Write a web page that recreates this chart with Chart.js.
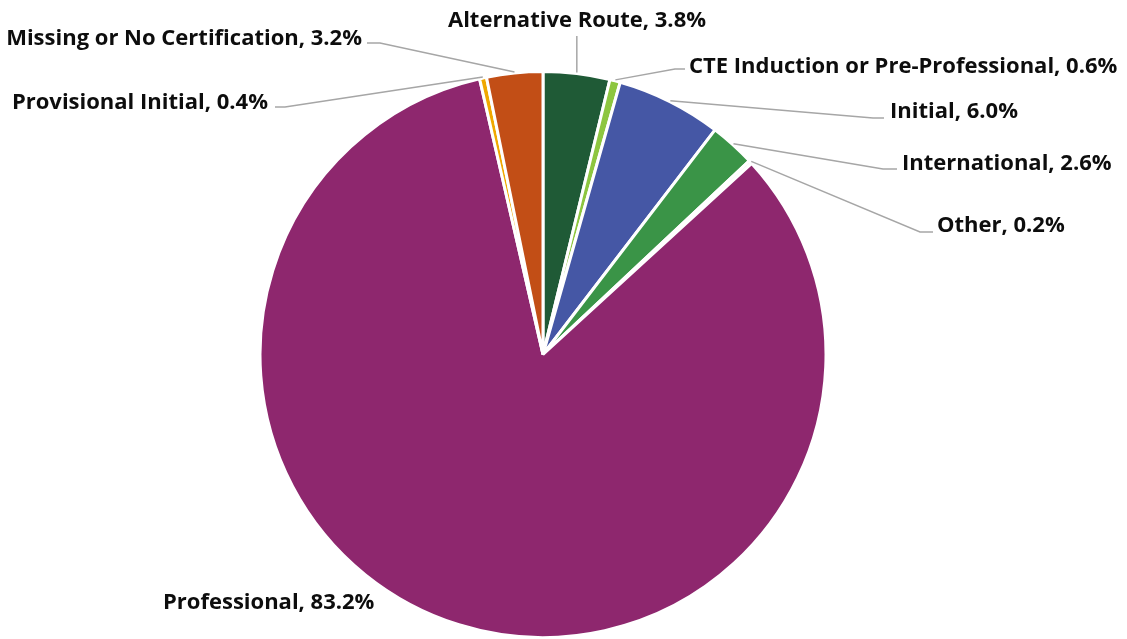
<!DOCTYPE html>
<html>
<head>
<meta charset="utf-8">
<script src="https://cdn.jsdelivr.net/npm/chart.js@4.4.1/dist/chart.umd.min.js"></script>
<style>
  html, body { margin: 0; padding: 0; background: #ffffff; }
  #wrap { width: 1127px; height: 639px; position: relative; }
</style>
</head>
<body>
<div id="wrap"><canvas id="certChart"></canvas></div>
<script>
// Certification types, clockwise from 12 o'clock
const categories = [
    'Alternative Route',
    'CTE Induction or Pre-Professional',
    'Initial',
    'International',
    'Other',
    'Professional',
    'Provisional Initial',
    'Missing or No Certification'
];
const shares = [3.8, 0.6, 6.0, 2.6, 0.2, 83.2, 0.4, 3.2];
const sliceColors = ['#1f5a36', '#8dc63f', '#4557a5', '#3a9447', '#f4f4f4', '#8e276e', '#f0a800', '#c24e16'];

// Where each callout sits and how its leader line bends
const labelSpots = [
    { textX: 577, textY: 21, align: 'center', vertical: true, bendY: 36 },
    { textX: 689, textY: 67, align: 'left', bendX: 675, bendY: 69, endX: 685 },
    { textX: 890, textY: 112, align: 'left', bendX: 873, bendY: 118, endX: 884 },
    { textX: 902, textY: 164, align: 'left', bendX: 883, bendY: 169, endX: 897 },
    { textX: 937, textY: 226, align: 'left', bendX: 920, bendY: 232, endX: 933 },
    { textX: 163, textY: 603, align: 'left' },
    { textX: 268, textY: 103, align: 'right', bendX: 285, bendY: 107, endX: 275 },
    { textX: 362, textY: 39, align: 'right', bendX: 380, bendY: 43, endX: 367 }
];

const calloutPlugin = {
    id: 'callouts',
    afterDraw(chart) {
        const ctx = chart.ctx;
        const arcs = chart.getDatasetMeta(0).data;
        ctx.save();
        ctx.font = 'bold 22px "Open Sans"';
        ctx.fillStyle = '#0d0d0d';
        ctx.textBaseline = 'middle';
        ctx.strokeStyle = '#a6a6a6';
        ctx.lineWidth = 1.5;
        arcs.forEach((arc, i) => {
            const spot = labelSpots[i];
            const mid = (arc.startAngle + arc.endAngle) / 2;
            const sx = arc.x + Math.cos(mid) * (arc.outerRadius + 1);
            const sy = arc.y + Math.sin(mid) * (arc.outerRadius + 1);
            if (spot.vertical) {
                ctx.beginPath();
                ctx.moveTo(sx, sy);
                ctx.lineTo(sx, spot.bendY);
                ctx.stroke();
            } else if (spot.bendX !== undefined) {
                ctx.beginPath();
                ctx.moveTo(sx, sy);
                ctx.lineTo(spot.bendX, spot.bendY);
                ctx.lineTo(spot.endX, spot.bendY);
                ctx.stroke();
            }
            ctx.textAlign = spot.align;
            ctx.fillText(`${categories[i]}, ${shares[i].toFixed(1)}%`, spot.textX, spot.textY);
        });
        ctx.restore();
    }
};

new Chart(document.getElementById('certChart'), {
    type: 'pie',
    data: {
        labels: categories,
        datasets: [{
            data: shares,
            backgroundColor: sliceColors,
            borderColor: '#ffffff',
            borderWidth: 3
        }]
    },
    options: {
        responsive: true,
        maintainAspectRatio: false,
        animation: false,
        layout: { padding: { top: 70, bottom: 0, left: 100, right: 141 } },
        plugins: {
            legend: { display: false },
            tooltip: { enabled: false }
        }
    },
    plugins: [calloutPlugin]
});
</script>
</body>
</html>
